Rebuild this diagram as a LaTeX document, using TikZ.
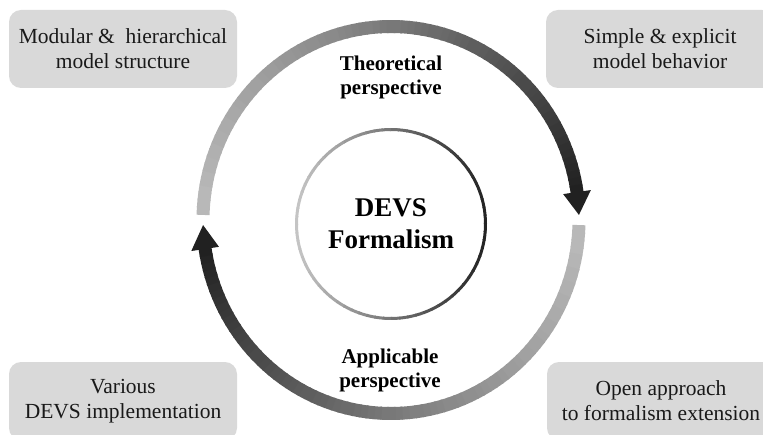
\documentclass[tikz,border=0pt]{standalone}
\usepackage{fontspec}
\setmainfont{Liberation Serif}
\definecolor{boxgray}{HTML}{D9D9D9}
\begin{document}
\begin{tikzpicture}[x=1pt,y=1pt]
\tikzset{
  infobox/.style={fill=boxgray, rounded corners=12pt, minimum width=228pt, minimum height=78pt, inner sep=0pt, align=center, text=black!90, font=\fontsize{21.5}{25}\selectfont},
  persp/.style={align=center, inner sep=0pt, font=\bfseries\fontsize{21}{24}\selectfont},
  core/.style={align=center, inner sep=0pt, font=\bfseries\fontsize{27}{32}\selectfont},
}
\useasboundingbox (0,0) rectangle (763,434);
\clip (0,0) rectangle (763,434);
% boxes
\node[infobox] (tl) at (123,385) {Modular \& \ hierarchical\\model structure};
\node[infobox] (tr) at (660,385) {Simple \& explicit\\model behavior};
\node[infobox] (bl) at (123,33) {Various\\DEVS implementation};
\node[infobox] (br) at (661,33) {Open approach\\to formalism extension};
% top arc (gradient light -> dark)
\foreach \i in {0,...,79} {
  \pgfmathsetmacro\ta{178.5 - \i*(170.2/80)}
  \pgfmathsetmacro\tb{\ta - 170.2/80 - 0.5}
  \pgfmathtruncatemacro\p{28 + 59*(\i/79)^1.3}
  \draw[line width=13pt, draw=black!\p] ({391+188*cos(\ta)},{214+193.5*sin(\ta)}) arc[start angle=\ta, end angle=\tb, x radius=188, y radius=193.5];
}
\fill[black!87] ({391+202*cos(8.3)},{214+207.5*sin(8.3)}) -- ({391+188*cos(1.5)},{214+193.5*sin(1.5)}) -- ({391+174*cos(8.3)},{214+179.5*sin(8.3)}) -- cycle;
% bottom arc
\foreach \i in {0,...,79} {
  \pgfmathsetmacro\ta{-1.5 - \i*(169.9/80)}
  \pgfmathsetmacro\tb{\ta - 169.9/80 - 0.5}
  \pgfmathtruncatemacro\p{28 + 59*(\i/79)^1.3}
  \draw[line width=13pt, draw=black!\p] ({391+188*cos(\ta)},{214+193.5*sin(\ta)}) arc[start angle=\ta, end angle=\tb, x radius=188, y radius=193.5];
}
\fill[black!87] ({391+202*cos(-171.4)},{214+207.5*sin(-171.4)}) -- ({391+188*cos(-178.5)},{214+193.5*sin(-178.5)}) -- ({391+174*cos(-171.4)},{214+179.5*sin(-171.4)}) -- cycle;
% inner circle
\foreach \a in {0,5,...,355} {
  \pgfmathtruncatemacro\p{55 + 32*cos(\a+2.5)}
  \draw[line width=3pt, draw=black!\p] ({391+94.5*cos(\a)},{210+94.5*sin(\a)}) arc[start angle=\a, end angle=\a+5.6, radius=94.5];
}
% labels
\node[core] (devs) at (391,210) {DEVS\\Formalism};
\node[persp] (theo) at (391,357) {Theoretical\\perspective};
\node[persp] (appl) at (390,64) {Applicable\\perspective};
\end{tikzpicture}
\end{document}
